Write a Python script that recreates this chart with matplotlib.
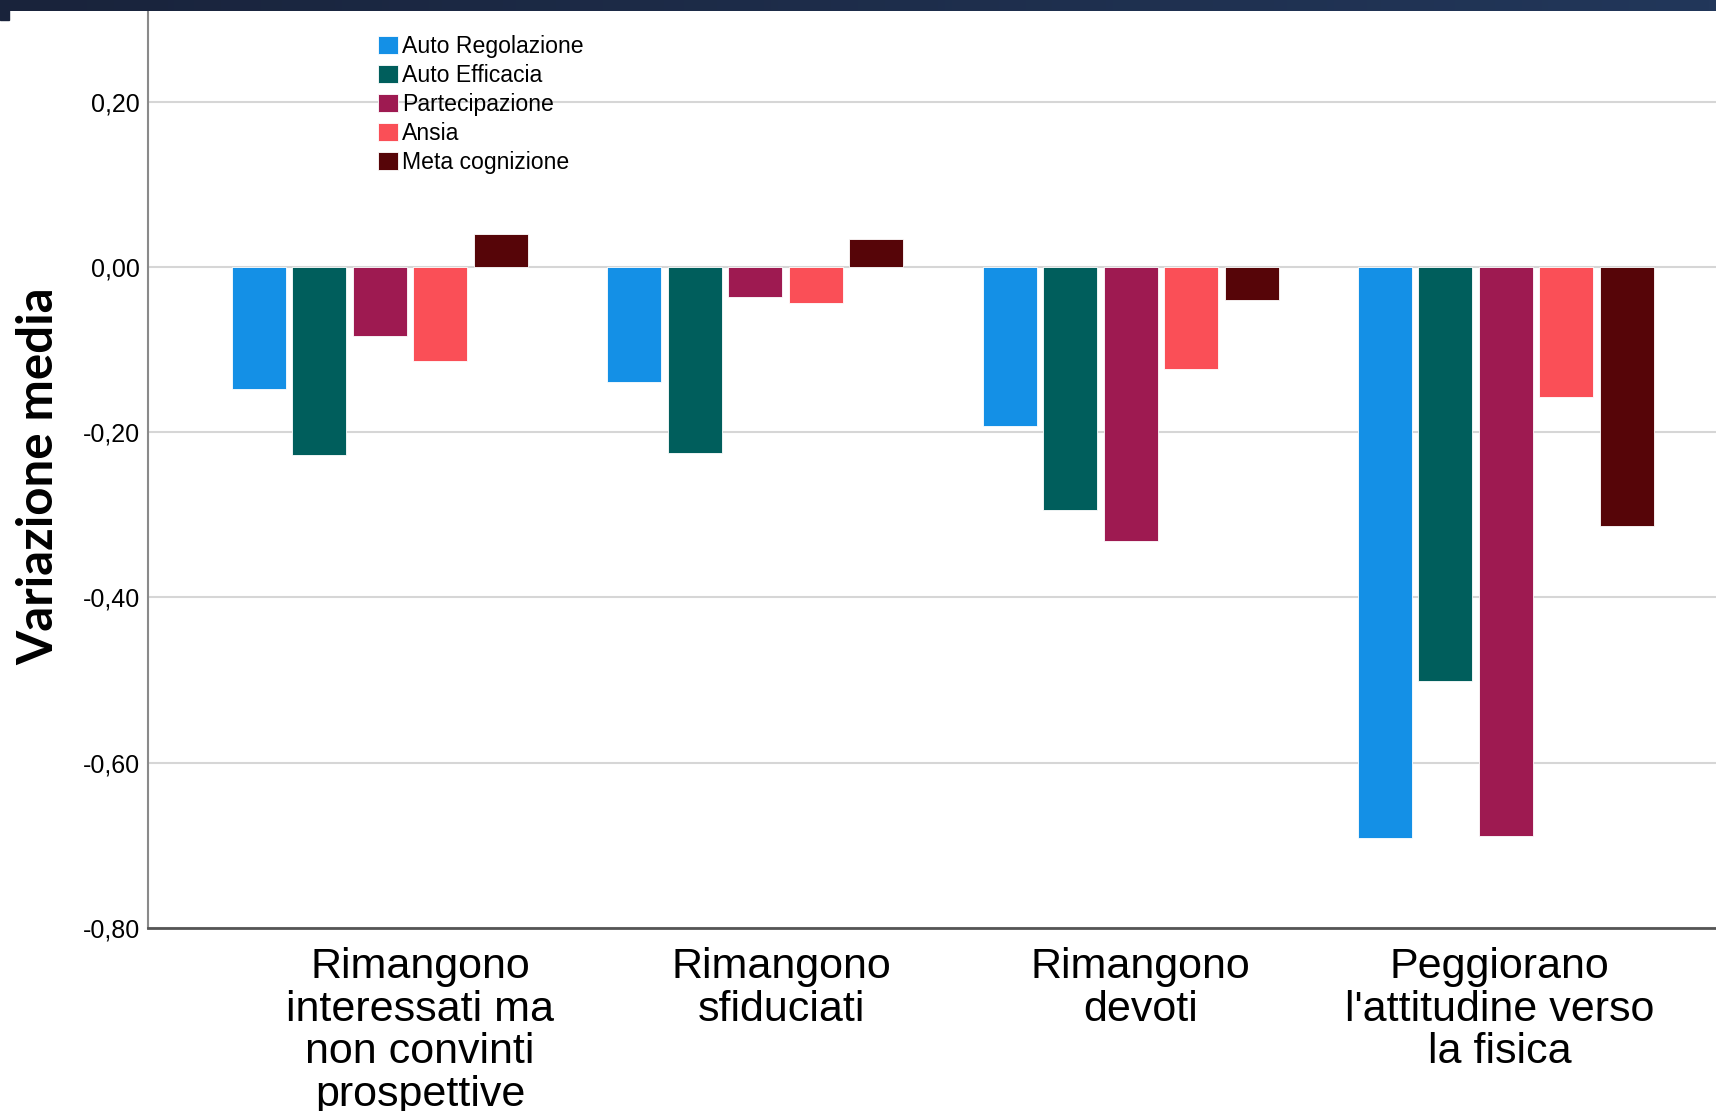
import numpy as np
import matplotlib.pyplot as plt
from matplotlib.patches import Rectangle
from matplotlib.colors import LinearSegmentedColormap

# data
categories = [
    "Rimangono\ninteressati ma\nnon convinti\nprospettive",
    "Rimangono\nsfiduciati",
    "Rimangono\ndevoti",
    "Peggiorano\nl'attitudine verso\nla fisica",
]
series = ["Auto Regolazione", "Auto Efficacia", "Partecipazione", "Ansia", "Meta cognizione"]
auto_regolazione = [-0.148, -0.139, -0.193, -0.691]
auto_efficacia = [-0.228, -0.225, -0.294, -0.501]
partecipazione = [-0.083, -0.036, -0.332, -0.689]
ansia = [-0.114, -0.044, -0.123, -0.158]
meta_cognizione = [0.040, 0.034, -0.040, -0.313]
yticks = [-0.8, -0.6, -0.4, -0.2, 0.0, 0.2]

values = [auto_regolazione, auto_efficacia, partecipazione, ansia, meta_cognizione]
colors = ["#1490E6", "#005E5C", "#9E1A51", "#FA4F57", "#560508"]

plt.rcParams['font.family'] = ['Liberation Sans', 'DejaVu Sans']

W, H = 1716, 1111
fig = plt.figure(figsize=(W / 100, H / 100), dpi=100)
fig.patch.set_facecolor('white')

ax = fig.add_axes([148 / W, (H - 928) / H, (W - 148) / W, 928 / H])

x = np.arange(len(categories))
step = 0.1612
width = 0.1439
for j, (name, vals, c) in enumerate(zip(series, values, colors)):
    ax.bar(x + (j - 2) * step, vals, width, color=c, label=name,
           edgecolor='white', linewidth=0.6, zorder=3)

ax.set_xlim(-0.618, 3.56)
ax.set_ylim(-0.8, 0.323)

# grid
ax.set_yticks(yticks)
ax.set_yticklabels([f"{v:.2f}".replace('.', ',') for v in yticks], fontsize=18)
ax.yaxis.grid(True, color='#d6d6d6', linewidth=1.5, zorder=0)
ax.set_axisbelow(True)
ax.tick_params(axis='y', length=0, pad=6)

# category labels (slightly shifted like in the original)
label_offsets = [0.107, 0.070, 0.026, -0.016]
ax.set_xticks(x + np.array(label_offsets))
ax.set_xticklabels(categories, fontsize=31, linespacing=1.08)
ax.tick_params(axis='x', length=0, pad=14)

for s in ['top', 'right']:
    ax.spines[s].set_visible(False)
ax.spines['left'].set_color('#8a8a8a')
ax.spines['left'].set_linewidth(1.5)
ax.spines['bottom'].set_color('#555555')
ax.spines['bottom'].set_linewidth(2)

fig.text(39 / W, 1 - 476 / H, "Variazione media", rotation=90, fontsize=35.5,
         fontweight='bold', family=['Lato', 'DejaVu Sans'], ha='center', va='center')

leg = ax.legend(loc='upper left', bbox_to_anchor=(378 / W, 1 - 35 / H),
                bbox_transform=fig.transFigure, frameon=False, fontsize=16.6,
                handlelength=0.85, handleheight=0.85, handletextpad=0.2,
                labelspacing=0.26, borderpad=0, borderaxespad=0)

# dark header band across the top
band = fig.add_axes([0, 1 - 11 / H, 1, 11 / H])
grad = np.linspace(0, 1, 256).reshape(1, -1)
cmap = LinearSegmentedColormap.from_list('band', ['#19233b', '#22375a'])
band.imshow(grad, aspect='auto', cmap=cmap)
band.axis('off')
fig.patches.append(Rectangle((0, 1 - 20 / H), 9 / W, 20 / H, transform=fig.transFigure,
                             color='#19233b', zorder=10))

fig.savefig('out.png', dpi=100)
